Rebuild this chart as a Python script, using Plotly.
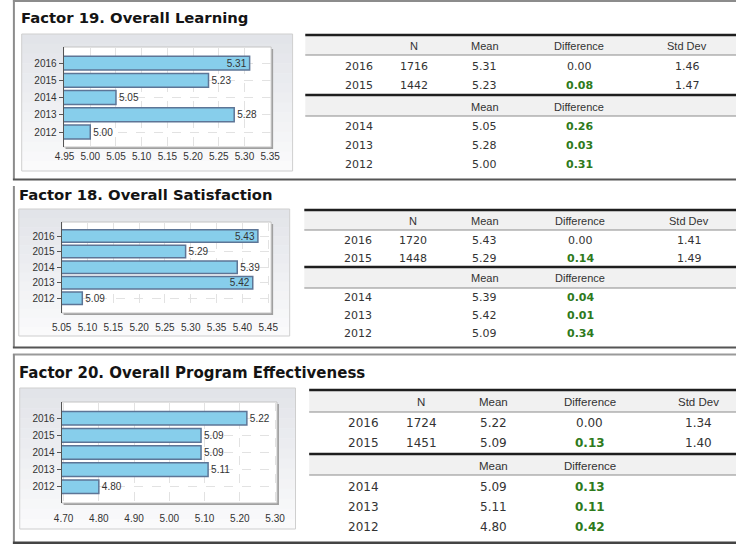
import plotly.graph_objects as go

# ---------------- data ----------------
years = ["2016", "2015", "2014", "2013", "2012"]

f19_title = "Factor 19. Overall Learning"
f19_mean = [5.31, 5.23, 5.05, 5.28, 5.00]
f19_n = [1716, 1442]
f19_sd = [1.46, 1.47]
f19_diff = [0.00, 0.08, 0.26, 0.03, 0.31]
f19_ticks = [4.95, 5.00, 5.05, 5.10, 5.15, 5.20, 5.25, 5.30, 5.35]

f18_title = "Factor 18. Overall Satisfaction"
f18_mean = [5.43, 5.29, 5.39, 5.42, 5.09]
f18_n = [1720, 1448]
f18_sd = [1.41, 1.49]
f18_diff = [0.00, 0.14, 0.04, 0.01, 0.34]
f18_ticks = [5.05, 5.10, 5.15, 5.20, 5.25, 5.30, 5.35, 5.40, 5.45]

f20_title = "Factor 20. Overall Program Effectiveness"
f20_mean = [5.22, 5.09, 5.09, 5.11, 4.80]
f20_n = [1724, 1451]
f20_sd = [1.34, 1.40]
f20_diff = [0.00, 0.13, 0.13, 0.11, 0.42]
f20_ticks = [4.70, 4.80, 4.90, 5.00, 5.10, 5.20, 5.30]

header_top = ["N", "Mean", "Difference", "Std Dev"]
header_bottom = ["Mean", "Difference"]

# ---------------- layout helpers ----------------
W, H = 745, 544


def px(x):
    return x / W


def py(y):
    return 1 - y / H


shapes = []
annotations = []


def rect(x0, y0, x1, y1, fill=None, line=None, lw=1, layer="below"):
    shapes.append(dict(type="rect", xref="paper", yref="paper",
                       x0=px(x0), x1=px(x1), y0=py(y1), y1=py(y0),
                       fillcolor=fill if fill else "rgba(0,0,0,0)",
                       line=dict(color=line if line else "rgba(0,0,0,0)", width=lw if line else 0),
                       layer=layer))


def hline(x0, x1, y, color, lw):
    shapes.append(dict(type="line", xref="paper", yref="paper",
                       x0=px(x0), x1=px(x1), y0=py(y), y1=py(y),
                       line=dict(color=color, width=lw), layer="above"))


def vline(x, y0, y1, color, lw):
    shapes.append(dict(type="line", xref="paper", yref="paper",
                       x0=px(x), x1=px(x), y0=py(y0), y1=py(y1),
                       line=dict(color=color, width=lw), layer="above"))


def text(x, y, s, size=11, family="DejaVu Sans", color="#333333", anchor="center", bold=False):
    if bold:
        s = "<b>" + s + "</b>"
    annotations.append(dict(xref="paper", yref="paper", x=px(x), y=py(y), text=s,
                            showarrow=False, xanchor=anchor, yanchor="middle",
                            borderpad=0, font=dict(size=size, family=family, color=color)))


def gradient_box(x0, y0, x1, y1):
    n = 14
    top = (226, 228, 233)
    bot = (250, 250, 251)
    h = (y1 - y0) / n
    for i in range(n):
        t = i / (n - 1)
        c = tuple(int(round(top[k] + (bot[k] - top[k]) * t)) for k in range(3))
        rect(x0, y0 + i * h, x1, y0 + (i + 1) * h + 0.5, fill="rgb(%d,%d,%d)" % c)
    rect(x0, y0, x1, y1, line="#cfcfcf", lw=1)


fig = go.Figure()

panels = [
    dict(title=f19_title, mean=f19_mean, n=f19_n, sd=f19_sd, diff=f19_diff, ticks=f19_ticks,
         title_xy=(10, 18), tsize=14.8,
         box=(12, 34, 290, 171), plot=(55, 47, 268, 147),
         xr=(4.95, 5.35), xpx=(56, 267), yr=(-0.87, 4.93), standoff=2,
         tbl=dict(left=303, top=35, band1=(36, 55), h1=46, rows1=(66.5, 85), thick=95,
                  band2=(96, 116), h2=106.5, rows2=(127, 146, 165),
                  cols=(358, 415, 487, 584, 695), fs=11, hs=11)),
    dict(title=f18_title, mean=f18_mean, n=f18_n, sd=f18_sd, diff=f18_diff, ticks=f18_ticks,
         title_xy=(8, 195), tsize=14.8,
         box=(9, 209, 287, 336), plot=(53, 222, 268, 313),
         xr=(5.05, 5.45), xpx=(53, 265), yr=(-0.94, 4.9), standoff=7,
         tbl=dict(left=302, top=210, band1=(211, 230), h1=221, rows1=(240.5, 258), thick=267,
                  band2=(268, 288), h2=278, rows2=(297.5, 315, 333),
                  cols=(357, 414, 487, 585, 697), fs=11, hs=11)),
    dict(title=f20_title, mean=f20_mean, n=f20_n, sd=f20_sd, diff=f20_diff, ticks=f20_ticks,
         title_xy=(8, 373), tsize=15,
         box=(10, 388, 293, 529), plot=(53, 402, 274, 503),
         xr=(4.70, 5.30), xpx=(55, 272), yr=(-0.95, 4.95), standoff=8,
         tbl=dict(left=307, top=390, band1=(391, 412), h1=401.5, rows1=(423, 443), thick=454,
                  band2=(455, 475), h2=466, rows2=(487, 507, 527),
                  cols=(363, 422, 496, 595, 707), fs=12, hs=11.5)),
]

# panel frames
hline(3, 745, 1, "#8c8c8c", 2)
vline(4, 0, 180, "#8c8c8c", 2)
hline(3, 745, 179.5, "#555555", 2)
vline(4, 186, 348, "#8c8c8c", 2)
hline(3, 745, 347.5, "#555555", 2)
hline(3, 745, 354.5, "#9a9a9a", 2)
vline(4, 354, 544, "#8c8c8c", 2)
hline(3, 745, 543, "#444444", 3)

green = "#2e7a1c"

for i, p in enumerate(panels):
    k = "" if i == 0 else str(i + 1)
    xa, ya = "x" + k, "y" + k
    # title
    text(p["title_xy"][0], p["title_xy"][1], p["title"], size=p["tsize"],
         family="DejaVu Sans", color="#141414", anchor="left", bold=True)
    # chart box
    gradient_box(*p["box"])
    x0, y0, x1, y1 = p["plot"]
    rect(x0 + 2, y0 + 2, x1 + 2, y1 + 2, fill="#a0a0a0")
    rect(x0, y0, x1, y1, fill="white", line="#c4c4c4", lw=1)

    # axis range mapped to plot pixel domain
    a, b = p["xr"]
    pa, pb = p["xpx"]
    scale = (b - a) / (pb - pa)
    rng = [a - (pa - x0) * scale, b + (x1 - pb) * scale]
    span = rng[1] - rng[0]
    pos = ["inside" if (rng[1] - v) / span < 0.12 else "outside" for v in p["mean"]]

    fig.add_trace(go.Bar(
        x=p["mean"], y=years, orientation="h", xaxis=xa, yaxis=ya,
        width=0.8, marker=dict(color="#87CEEB", line=dict(color="#5d7596", width=1.5)),
        text=["%.2f" % v for v in p["mean"]], textposition=pos,
        insidetextanchor="end", constraintext="none",
        textfont=dict(size=10, family="Liberation Sans", color="#333333"),
        insidetextfont=dict(size=10, family="Liberation Sans", color="#333333"),
        outsidetextfont=dict(size=10, family="Liberation Sans", color="#333333"),
        cliponaxis=False, showlegend=False, hoverinfo="skip"))

    xname = "xaxis" + k
    yname = "yaxis" + k
    fig.layout[xname] = dict(
        domain=[px(x0), px(x1)], anchor=ya, range=rng,
        tickvals=p["ticks"],
        ticktext=["%.2f" % t for t in p["ticks"]],
        tickfont=dict(size=10, family="Liberation Sans", color="#333333"),
        showline=False, ticks="", zeroline=False,
        showgrid=True, gridcolor="#e2e2e2", griddash="dash", gridwidth=1,
        ticklabelstandoff=p["standoff"], fixedrange=True)
    fig.layout[yname] = dict(
        domain=[py(y1), py(y0)], anchor=xa, type="category",
        categoryorder="array", categoryarray=years[::-1], range=list(p["yr"]),
        tickfont=dict(size=10, family="Liberation Sans", color="#333333"),
        showline=True, linecolor="#555555", linewidth=1,
        ticks="outside", ticklen=4, tickcolor="#555555",
        showgrid=True, gridcolor="#e2e2e2", griddash="dash", gridwidth=1,
        zeroline=False, fixedrange=True)

    # table
    t = p["tbl"]
    L = t["left"]
    rect(L, t["band1"][0], W, t["band1"][1], fill="#f1f1f1")
    rect(L, t["band2"][0], W, t["band2"][1], fill="#f1f1f1")
    hline(L, W, t["top"], "#1e1e1e", 2.5)
    hline(L, W, t["band1"][1], "#8a8a8a", 1)
    hline(L, W, t["thick"], "#1e1e1e", 2.5)
    hline(L, W, t["band2"][1], "#8a8a8a", 1)
    cy, cn, cm, cd, cs = t["cols"]
    for lab, cx in zip(header_top, (cn, cm, cd, cs)):
        text(cx, t["h1"], lab, size=t["hs"], family="Liberation Sans", color="#333333")
    for lab, cx in zip(header_bottom, (cm, cd)):
        text(cx, t["h2"], lab, size=t["hs"], family="Liberation Sans", color="#333333")
    fs = t["fs"]
    for j in range(2):
        ry = t["rows1"][j]
        text(cy, ry, years[j], size=fs)
        text(cn, ry, str(p["n"][j]), size=fs)
        text(cm, ry, "%.2f" % p["mean"][j], size=fs)
        d = p["diff"][j]
        text(cd, ry, "%.2f" % d, size=fs, color=green if d != 0 else "#333333", bold=d != 0)
        text(cs, ry, "%.2f" % p["sd"][j], size=fs)
    for j in range(3):
        ry = t["rows2"][j]
        idx = j + 2
        text(cy, ry, years[idx], size=fs)
        text(cm, ry, "%.2f" % p["mean"][idx], size=fs)
        d = p["diff"][idx]
        text(cd, ry, "%.2f" % d, size=fs, color=green if d != 0 else "#333333", bold=d != 0)

fig.update_layout(
    width=W, height=H, autosize=False,
    margin=dict(l=0, r=0, t=0, b=0, pad=0),
    paper_bgcolor="white", plot_bgcolor="rgba(0,0,0,0)",
    shapes=shapes, annotations=annotations,
    bargap=0.2, showlegend=False,
    uniformtext=dict(minsize=10, mode="show"),
)

fig.write_html("out.html", config=dict(displayModeBar=False),
               post_script="document.body.style.margin='0px';document.body.style.overflow='hidden';")
